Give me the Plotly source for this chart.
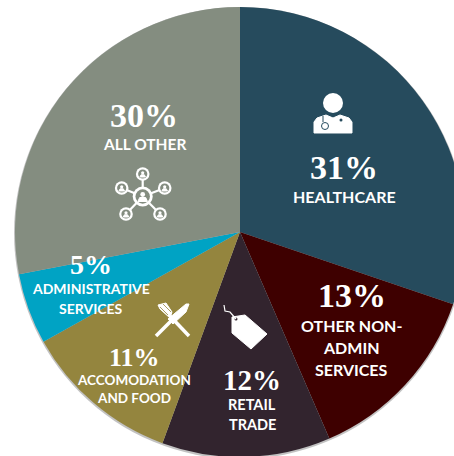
import plotly.graph_objects as go

categories = ["HEALTHCARE", "OTHER NON-ADMIN SERVICES", "RETAIL TRADE",
              "ACCOMODATION AND FOOD", "ADMINISTRATIVE SERVICES", "ALL OTHER"]
slice_values = [30.2, 13.3, 12.1, 11.3, 5.1, 28.0]
# percentages as printed on the chart
printed_pct = ["31%", "13%", "12%", "11%", "5%", "30%"]
colors = ["#264B5D", "#3E0000", "#32242E", "#94853E", "#00A3C4", "#848D80"]

W, H = 480, 460
WHITE = "#FFFFFF"


def X(p):
    return p / W


def Y(p):
    return 1 - p / H


def path(cmds):
    out = []
    for c in cmds:
        if isinstance(c, str):
            out.append(c)
        else:
            out.append(f"{X(c[0]):.5f},{Y(c[1]):.5f}")
    return " ".join(out)


def poly(pts, close=True):
    cmds = ["M", pts[0]]
    for p in pts[1:]:
        cmds += ["L", p]
    if close:
        cmds.append("Z")
    return path(cmds)


shapes = []


def circle(cx, cy, r, fill=WHITE, line=None, lw=0, layer="above", opacity=1):
    shapes.append(dict(type="circle", xref="paper", yref="paper", layer=layer, opacity=opacity,
                       x0=X(cx - r), x1=X(cx + r), y0=Y(cy + r), y1=Y(cy - r),
                       fillcolor=fill, line=dict(color=line or fill, width=lw)))


def stroke(pts, w, color=WHITE):
    shapes.append(dict(type="path", xref="paper", yref="paper", layer="above",
                       path=poly(pts, close=False),
                       line=dict(color=color, width=w)))


def fill(pts, color=WHITE):
    shapes.append(dict(type="path", xref="paper", yref="paper", layer="above",
                       path=poly(pts), fillcolor=color, line=dict(color=color, width=1)))


# soft edge shadow behind the pie
circle(240, 233, 226, fill="#A8A8A8", layer="below", opacity=0.7)

# doctor icon
circle(333, 103, 10)
fill([(314, 133), (314, 122), (317, 118), (326, 115), (333, 118), (340, 115),
      (349, 118), (352, 122), (352, 133)])
stroke([(323, 116), (323, 122)], 1, "#264B5D")
circle(325, 126, 3.5, fill=WHITE, line="#264B5D", lw=1)
circle(341, 120, 1.5, fill="#264B5D")

# tag icon
fill([(232, 317), (245, 315), (267, 334), (251, 349), (232, 333)])
circle(236, 319, 1.5, fill="#32242E")
stroke([(236, 319), (230, 312), (225, 311), (224, 305)], 1.2)

# fork and knife icon
stroke([(156, 336), (172, 320)], 3.5)
fill([(168, 319), (186, 304), (189, 304), (186, 312), (173, 324)])
stroke([(189, 336), (170, 316)], 3.5)
fill([(170, 318), (160, 309), (158, 305), (166, 303), (172, 312)])
stroke([(160, 307), (168, 315)], 0.8, "#94853E")
stroke([(163, 304), (171, 312)], 0.8, "#94853E")

# network icon
hub = (142.7, 196.5)
nodes = [(142.7, 174), (121.7, 188), (164.7, 188), (126, 214), (160, 214)]
for n in nodes:
    stroke([hub, n], 2.2)
for n in nodes:
    circle(n[0], n[1], 6.8)
    circle(n[0], n[1], 4.6, fill="#848D80")
    circle(n[0], n[1] - 1.2, 1.6)
    fill([(n[0] - 2.8, n[1] + 3), (n[0] + 2.8, n[1] + 3), (n[0] + 1.6, n[1] + 0.8), (n[0] - 1.6, n[1] + 0.8)])
circle(hub[0], hub[1], 10)
circle(hub[0], hub[1], 7.2, fill="#848D80")
circle(hub[0], hub[1] - 2, 2.4)
fill([(hub[0] - 4.8, hub[1] + 5), (hub[0] + 4.8, hub[1] + 5), (hub[0] + 3, hub[1] + 1), (hub[0] - 3, hub[1] + 1)])

pct_pos = [(344, 167, 34), (352, 295, 34), (252, 380, 29), (134, 357, 26), (91, 264, 28), (144, 115, 34)]
label_lines = [["HEALTHCARE"], ["OTHER NON-", "ADMIN", "SERVICES"], ["RETAIL", "TRADE"],
               ["ACCOMODATION", "AND FOOD"], ["ADMINISTRATIVE", "SERVICES"], ["ALL OTHER"]]
label_pos = [(344, [196]), (351, [325, 347, 369]), (252, [404, 424]),
             (133.5, [380, 398]), (91, [288, 308]), (144, [144])]
label_size = [16, 16, 14.5, 13.5, 14, 15.5]

annotations = []


def note(text, x, y, size, family):
    annotations.append(dict(text=f"<b>{text}</b>", x=X(x), y=Y(y), xref="paper", yref="paper",
                            xanchor="center", yanchor="middle", showarrow=False,
                            font=dict(family=family, size=size, color=WHITE)))


for pct, (x, y, s) in zip(printed_pct, pct_pos):
    note(pct, x, y, s, "Liberation Serif")
for lines, (x, ys), s in zip(label_lines, label_pos, label_size):
    for line, y in zip(lines, ys):
        note(line, x, y, s, "Lato")

fig = go.Figure(go.Pie(
    labels=categories, values=slice_values, sort=False, direction="clockwise", rotation=0,
    marker=dict(colors=colors, line=dict(width=0)), textinfo="none", hoverinfo="label",
    domain=dict(x=[0, 1], y=[3 / H, 453 / H]), showlegend=False,
))
fig.update_layout(width=W, height=H, margin=dict(l=0, r=0, t=0, b=0), paper_bgcolor="white",
                  shapes=shapes, annotations=annotations)
fig.write_html("out.html", config=dict(displayModeBar=False),
               post_script="document.documentElement.style.overflow='hidden';document.body.style.overflow='hidden';document.body.style.margin='0';")
